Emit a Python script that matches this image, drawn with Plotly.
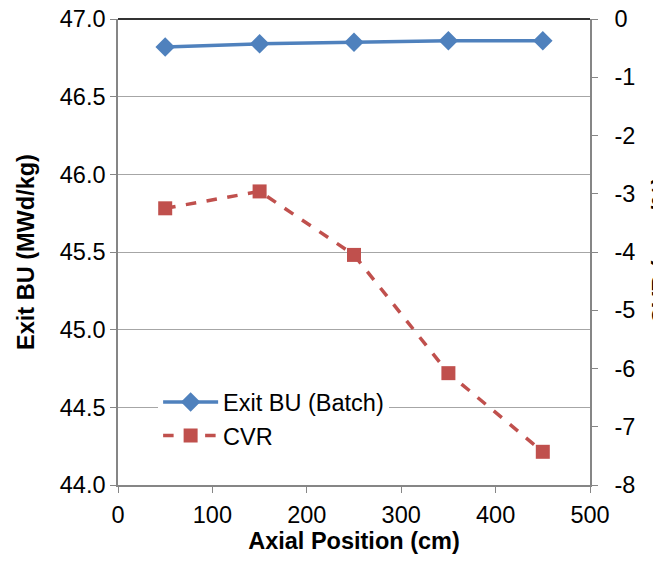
import plotly.graph_objects as go

axial = [50, 150, 250, 350, 450]
exit_bu = [46.82, 46.84, 46.85, 46.86, 46.86]
cvr = [-3.25, -2.96, -4.05, -6.08, -7.43]

left_ticks = [44.0, 44.5, 45.0, 45.5, 46.0, 46.5, 47.0]
left_labels = ["44.0", "44.5", "45.0", "45.5", "46.0", "46.5", "47.0"]
right_ticks = [0, -1, -2, -3, -4, -5, -6, -7, -8]
right_labels = ["0", "-1", "-2", "-3", "-4", "-5", "-6", "-7", "-8"]
x_ticks = [0, 100, 200, 300, 400, 500]

FONT = "Liberation Sans, Arial, sans-serif"
AXC = "#868686"
FS = 23.5

fig = go.Figure()
fig.add_trace(go.Scatter(
    x=axial, y=exit_bu, name="Exit BU (Batch)", mode="lines+markers",
    line=dict(color="#4F81BD", width=3.5),
    marker=dict(symbol="diamond", size=15, color="#4F81BD"),
    yaxis="y"))
fig.add_trace(go.Scatter(
    x=axial, y=cvr, name="CVR", mode="lines+markers",
    line=dict(color="#C0504D", width=3.5, dash="dash"),
    marker=dict(symbol="square", size=14, color="#C0504D"),
    yaxis="y2"))

fig.update_layout(
    width=653, height=561,
    margin=dict(l=118, r=63, t=19, b=76),
    paper_bgcolor="white", plot_bgcolor="white",
    font=dict(family=FONT, size=FS, color="black"),
    showlegend=True,
    legend=dict(x=0.085, y=0.225, xanchor="left", yanchor="top",
                bgcolor="white", font=dict(size=FS), tracegroupgap=0,
                itemwidth=55),
    xaxis=dict(range=[0, 500], tickvals=x_ticks, ticks="outside", ticklen=6,
               tickcolor=AXC, showline=True, linecolor=AXC, linewidth=1.5,
               showgrid=False, zeroline=False, tickfont=dict(size=FS),
               automargin=False, ticklabelstandoff=2,
               title=dict(text="<b>Axial Position (cm)</b>", standoff=4,
                          font=dict(size=FS))),
    yaxis=dict(range=[44.0, 47.0], tickvals=left_ticks, ticktext=left_labels,
               ticks="outside", ticklen=6, tickcolor=AXC, showline=True,
               linecolor=AXC, linewidth=1.5, showgrid=True,
               gridcolor="#A6A6A6", gridwidth=1.3, zeroline=False,
               tickfont=dict(size=FS), automargin=False,
               title=dict(text="<b>Exit BU (MWd/kg)</b>", standoff=19,
                          font=dict(size=FS))),
    yaxis2=dict(range=[-8, 0], tickvals=right_ticks, ticktext=right_labels,
                overlaying="y", side="right", ticks="outside", ticklen=6,
                tickcolor=AXC, showline=True, linecolor=AXC, linewidth=1.5,
                showgrid=False, zeroline=False, tickfont=dict(size=FS),
                automargin=False, ticklabelstandoff=12),
    shapes=[dict(type="line", xref="paper", yref="paper", x0=0, x1=1,
                 y0=1, y1=1, line=dict(color="#333333", width=2))],
    annotations=[dict(text="<b>CVR (pcm/%)</b>", textangle=-90,
                      xref="paper", yref="paper", x=1.119, y=0.504,
                      xanchor="left", yanchor="middle", showarrow=False,
                      font=dict(size=FS, color="black"))],
)

fig.write_html("out.html")
